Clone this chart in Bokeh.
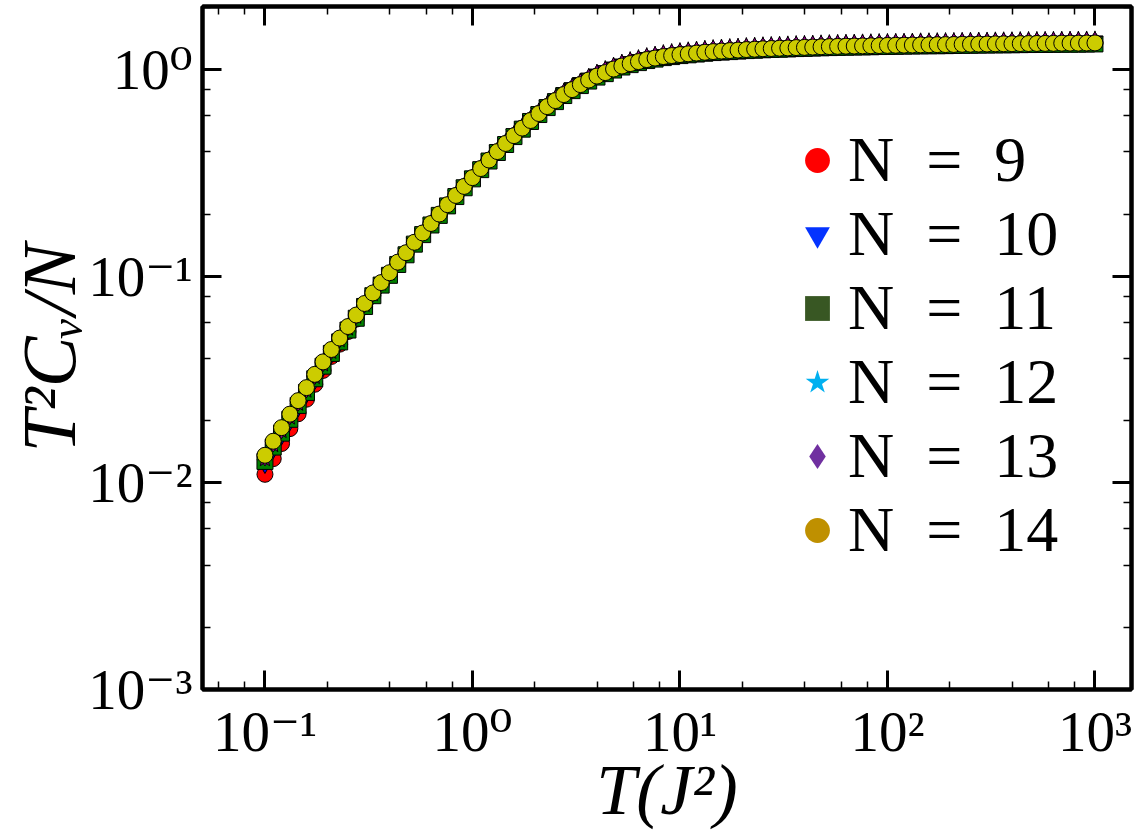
from bokeh.plotting import figure
from bokeh.models import LogAxis, Legend, LegendItem, CustomJSTickFormatter, Range1d, LogTicker
from bokeh.embed import file_html
from bokeh.resources import INLINE

# Temperature grid T (J^2)
T = [0.1, 0.1096, 0.1202, 0.1318, 0.1445, 0.1585, 0.1738, 0.1905, 0.2089, 0.2291,
     0.2512, 0.2754, 0.3020, 0.3311, 0.3631, 0.3981, 0.4365, 0.4786, 0.5248, 0.5754,
     0.6310, 0.6918, 0.7586, 0.8318, 0.9120, 1.0, 1.096, 1.202, 1.318, 1.445,
     1.585, 1.738, 1.905, 2.089, 2.291, 2.512, 2.754, 3.020, 3.311, 3.631,
     3.981, 4.365, 4.786, 5.248, 5.754, 6.310, 6.918, 7.586, 8.318, 9.120,
     10.0, 10.96, 12.02, 13.18, 14.45, 15.85, 17.38, 19.05, 20.89, 22.91,
     25.12, 27.54, 30.20, 33.11, 36.31, 39.81, 43.65, 47.86, 52.48, 57.54,
     63.10, 69.18, 75.86, 83.18, 91.20, 100.0, 109.6, 120.2, 131.8, 144.5,
     158.5, 173.8, 190.5, 208.9, 229.1, 251.2, 275.4, 302.0, 331.1, 363.1,
     398.1, 436.5, 478.6, 524.8, 575.4, 631.0, 691.8, 758.6, 831.8, 912.0, 1000.0]

cv_n9 = [0.0110, 0.0131, 0.0155, 0.0183, 0.0216, 0.0254, 0.0300, 0.0350, 0.0409, 0.0469,
         0.0540, 0.0620, 0.0712, 0.0807, 0.0911, 0.102, 0.115, 0.129, 0.145, 0.161,
         0.179, 0.199, 0.221, 0.245, 0.271, 0.299, 0.331, 0.364, 0.400, 0.438,
         0.478, 0.521, 0.567, 0.613, 0.662, 0.708, 0.757, 0.800, 0.846, 0.890,
         0.930, 0.967, 1.006, 1.040, 1.069, 1.093, 1.118, 1.137, 1.156, 1.169,
         1.182, 1.192, 1.202, 1.213, 1.222, 1.229, 1.236, 1.243, 1.250, 1.255,
         1.261, 1.265, 1.269, 1.273, 1.278, 1.281, 1.285, 1.289, 1.292, 1.295,
         1.298, 1.300, 1.302, 1.304, 1.307, 1.309, 1.311, 1.313, 1.315, 1.317,
         1.318, 1.320, 1.321, 1.323, 1.326, 1.327, 1.329, 1.330, 1.332, 1.333,
         1.334, 1.336, 1.337, 1.338, 1.339, 1.340, 1.342, 1.343, 1.343, 1.345, 1.346]

cv_n10 = [0.0123, 0.0145, 0.0169, 0.0198, 0.0231, 0.0269, 0.0313, 0.0362, 0.0418, 0.0477,
          0.0546, 0.0624, 0.0714, 0.0807, 0.0911, 0.102, 0.116, 0.129, 0.146, 0.162,
          0.181, 0.201, 0.224, 0.248, 0.275, 0.304, 0.336, 0.370, 0.407, 0.446,
          0.487, 0.530, 0.577, 0.623, 0.673, 0.720, 0.770, 0.814, 0.860, 0.905,
          0.946, 0.983, 1.023, 1.058, 1.087, 1.112, 1.137, 1.156, 1.176, 1.189,
          1.202, 1.212, 1.222, 1.234, 1.243, 1.250, 1.257, 1.264, 1.271, 1.276,
          1.282, 1.287, 1.291, 1.295, 1.300, 1.303, 1.307, 1.311, 1.314, 1.317,
          1.320, 1.322, 1.324, 1.326, 1.329, 1.331, 1.333, 1.335, 1.337, 1.339,
          1.340, 1.342, 1.343, 1.346, 1.349, 1.350, 1.352, 1.353, 1.355, 1.356,
          1.357, 1.359, 1.360, 1.361, 1.362, 1.363, 1.365, 1.366, 1.366, 1.368, 1.369]

cv_n11 = [0.0127, 0.0149, 0.0174, 0.0203, 0.0237, 0.0274, 0.0319, 0.0367, 0.0423, 0.0481,
          0.0549, 0.0626, 0.0714, 0.0805, 0.0906, 0.101, 0.114, 0.127, 0.143, 0.159,
          0.177, 0.197, 0.219, 0.243, 0.268, 0.296, 0.328, 0.361, 0.397, 0.434,
          0.474, 0.515, 0.561, 0.606, 0.655, 0.700, 0.749, 0.791, 0.837, 0.880,
          0.920, 0.956, 0.995, 1.029, 1.057, 1.081, 1.106, 1.124, 1.143, 1.156,
          1.169, 1.179, 1.189, 1.200, 1.209, 1.215, 1.222, 1.229, 1.236, 1.241,
          1.247, 1.251, 1.255, 1.259, 1.264, 1.267, 1.271, 1.275, 1.278, 1.281,
          1.284, 1.286, 1.288, 1.290, 1.293, 1.295, 1.297, 1.299, 1.301, 1.303,
          1.304, 1.305, 1.306, 1.308, 1.311, 1.312, 1.314, 1.315, 1.317, 1.318,
          1.319, 1.321, 1.322, 1.323, 1.324, 1.325, 1.327, 1.328, 1.328, 1.330, 1.331]

cv_n12 = [0.0130, 0.0152, 0.0178, 0.0207, 0.0241, 0.0279, 0.0325, 0.0374, 0.0430, 0.0490,
          0.0558, 0.0636, 0.0725, 0.0818, 0.0920, 0.103, 0.116, 0.129, 0.145, 0.162,
          0.180, 0.200, 0.223, 0.248, 0.274, 0.303, 0.336, 0.371, 0.408, 0.448,
          0.490, 0.534, 0.582, 0.631, 0.683, 0.732, 0.784, 0.831, 0.881, 0.928,
          0.973, 1.012, 1.052, 1.088, 1.118, 1.143, 1.169, 1.189, 1.209, 1.223,
          1.236, 1.247, 1.257, 1.269, 1.278, 1.286, 1.293, 1.300, 1.308, 1.313,
          1.319, 1.323, 1.327, 1.332, 1.337, 1.340, 1.344, 1.348, 1.351, 1.355,
          1.358, 1.360, 1.362, 1.364, 1.367, 1.369, 1.371, 1.373, 1.375, 1.378,
          1.379, 1.381, 1.382, 1.384, 1.387, 1.388, 1.390, 1.391, 1.393, 1.394,
          1.395, 1.397, 1.399, 1.400, 1.401, 1.402, 1.404, 1.405, 1.405, 1.407, 1.408]

cv_n13 = [0.0132, 0.0154, 0.0179, 0.0209, 0.0243, 0.0282, 0.0327, 0.0377, 0.0433, 0.0493,
          0.0562, 0.0639, 0.0728, 0.0821, 0.0923, 0.103, 0.116, 0.129, 0.146, 0.162,
          0.180, 0.200, 0.223, 0.247, 0.274, 0.302, 0.335, 0.369, 0.407, 0.446,
          0.487, 0.531, 0.579, 0.626, 0.678, 0.726, 0.777, 0.823, 0.872, 0.918,
          0.962, 1.000, 1.040, 1.075, 1.105, 1.130, 1.156, 1.176, 1.195, 1.209,
          1.222, 1.233, 1.243, 1.254, 1.264, 1.271, 1.278, 1.285, 1.293, 1.298,
          1.304, 1.308, 1.312, 1.316, 1.321, 1.325, 1.329, 1.333, 1.336, 1.339,
          1.342, 1.344, 1.346, 1.348, 1.351, 1.354, 1.356, 1.358, 1.360, 1.362,
          1.363, 1.365, 1.366, 1.368, 1.371, 1.372, 1.374, 1.375, 1.377, 1.378,
          1.379, 1.381, 1.382, 1.383, 1.385, 1.386, 1.388, 1.389, 1.389, 1.391, 1.392]

cv_n14 = [0.0136, 0.0159, 0.0185, 0.0215, 0.0250, 0.0289, 0.0335, 0.0385, 0.0442, 0.0502,
          0.0571, 0.0649, 0.0738, 0.0830, 0.0932, 0.104, 0.117, 0.130, 0.146, 0.162,
          0.180, 0.200, 0.222, 0.246, 0.272, 0.300, 0.332, 0.365, 0.401, 0.439,
          0.479, 0.521, 0.567, 0.613, 0.662, 0.708, 0.757, 0.800, 0.846, 0.890,
          0.930, 0.967, 1.006, 1.040, 1.069, 1.093, 1.118, 1.137, 1.156, 1.169,
          1.182, 1.192, 1.202, 1.213, 1.222, 1.229, 1.236, 1.243, 1.250, 1.255,
          1.261, 1.265, 1.269, 1.273, 1.278, 1.281, 1.285, 1.289, 1.292, 1.295,
          1.298, 1.300, 1.302, 1.304, 1.307, 1.309, 1.311, 1.313, 1.315, 1.317,
          1.318, 1.320, 1.321, 1.323, 1.326, 1.327, 1.329, 1.330, 1.332, 1.333,
          1.334, 1.336, 1.337, 1.338, 1.339, 1.340, 1.342, 1.343, 1.343, 1.345, 1.346]

labels = ["N\u2002=\u20029", "N\u2002=\u200210", "N\u2002=\u200211",
          "N\u2002=\u200212", "N\u2002=\u200213", "N\u2002=\u200214"]
series = [cv_n9, cv_n10, cv_n11, cv_n12, cv_n13, cv_n14]
markers = ["circle", "inverted_triangle", "square", "star", "diamond", "circle"]
plot_colors = ["#ff0000", "#0000ff", "#008000", "#cc00cc", "#b000b0", "#cccc00"]
legend_colors = ["#ff0000", "#0433ff", "#385723", "#00b0f0", "#7030a0", "#bf9000"]

FONT = "'Liberation Serif', 'DejaVu Serif', serif"

p = figure(x_axis_type="log", y_axis_type="log",
           x_range=Range1d(0.05, 1500), y_range=Range1d(1e-3, 2.02),
           frame_width=929, frame_height=683,
           min_border_left=202, min_border_right=9, min_border_top=6, min_border_bottom=147,
           output_backend="svg", toolbar_location=None,
           background_fill_color="white", border_fill_color="white")
p.grid.visible = False
p.outline_line_color = "black"
p.outline_line_width = 4

fmt = CustomJSTickFormatter(code="""
const e = Math.round(Math.log10(tick));
const m = {"-":"\u207b","0":"\u2070","1":"\u00b9","2":"\u00b2","3":"\u00b3","4":"\u2074","5":"\u2075","6":"\u2076","7":"\u2077","8":"\u2078","9":"\u2079"};
return "10" + String(e).split("").map(c => m[c]).join("");
""")

def style_axis(ax, show_labels):
    ax.ticker = LogTicker(desired_num_ticks=6)
    ax.axis_line_width = 4
    ax.axis_line_color = "black"
    ax.major_tick_in = 19
    ax.major_tick_out = 0
    ax.minor_tick_in = 8
    ax.minor_tick_out = 0
    ax.major_tick_line_width = 3
    ax.minor_tick_line_width = 1.5
    ax.major_tick_line_color = "black"
    ax.minor_tick_line_color = "black"
    if show_labels:
        ax.formatter = fmt
        ax.major_label_text_font = FONT
        ax.major_label_text_font_size = "57px"
        ax.major_label_text_color = "black"
        ax.major_label_standoff = 10
    else:
        ax.major_label_text_font_size = "1px"
        ax.major_label_text_alpha = 0
        ax.major_label_standoff = 0

style_axis(p.xaxis[0], True)
style_axis(p.yaxis[0], True)
p.xaxis[0].axis_label = "T(J\u00b2)"
p.yaxis[0].axis_label = "T\u00b2C\u1d65/N"
for ax in (p.xaxis[0], p.yaxis[0]):
    ax.axis_label_text_font = FONT
    ax.axis_label_text_font_style = "italic"
    ax.axis_label_text_color = "black"
p.xaxis[0].axis_label_text_font_size = "72px"
p.yaxis[0].axis_label_text_font_size = "76px"
p.xaxis[0].axis_label_standoff = -16
p.yaxis[0].axis_label_standoff = -6

top_ax = LogAxis()
right_ax = LogAxis()
style_axis(top_ax, False)
style_axis(right_ax, False)
p.add_layout(top_ax, "above")
p.add_layout(right_ax, "right")

# data markers
for ys, mk, col in zip(series, markers, plot_colors):
    p.scatter(x=T, y=ys, marker=mk, size=16, fill_color=col,
              line_color="black", line_width=1)

# legend entries (glyphs without outline, as in the reference legend)
items = []
for lab, mk, col in zip(labels, markers, legend_colors):
    r = p.scatter(x=[1e-6], y=[1e-6], marker=mk, size=16, fill_color=col, line_color=None)
    items.append(LegendItem(label=lab, renderers=[r]))

leg = Legend(items=items, location=(584, 122),
             label_text_font=FONT, label_text_font_size="64px",
             label_text_color="black",
             glyph_width=62, glyph_height=62, label_height=62,
             label_standoff=0, spacing=0, padding=0, margin=0,
             border_line_color=None, background_fill_alpha=0)
p.add_layout(leg, "center")

open("out.html", "w").write(file_html(p, INLINE))
